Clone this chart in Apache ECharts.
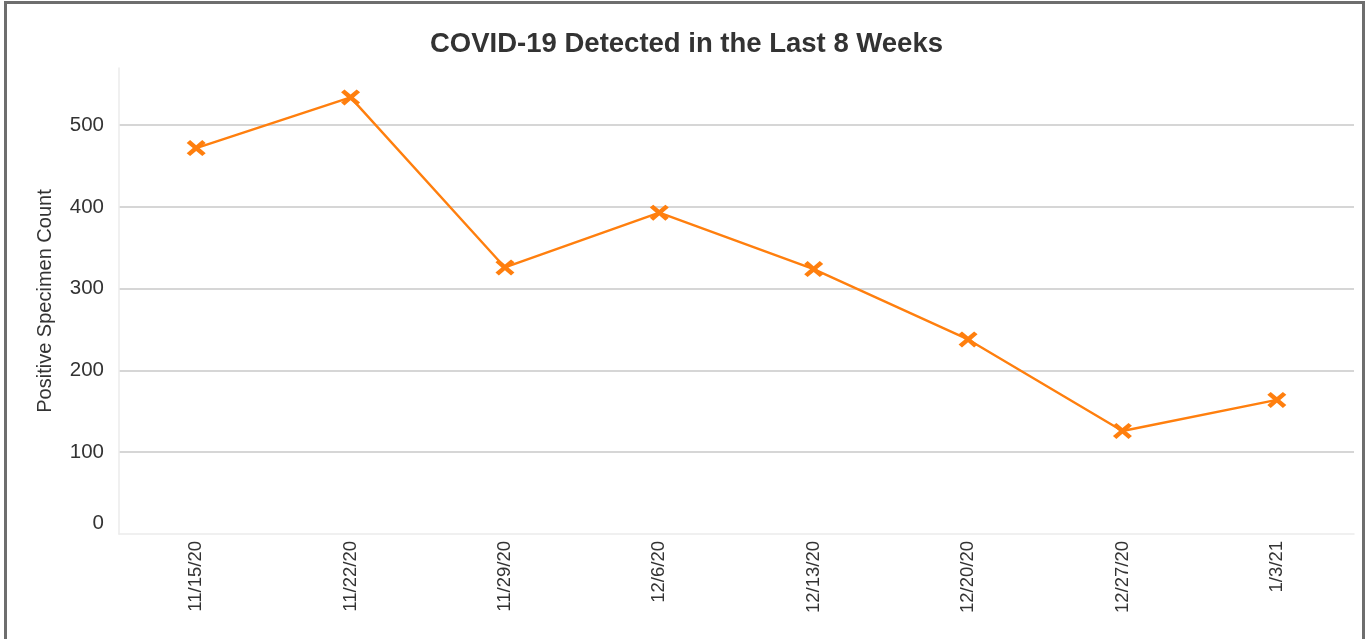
<!DOCTYPE html>
<html>
<head>
<meta charset="utf-8">
<script src="https://cdn.jsdelivr.net/npm/echarts@6/dist/echarts.min.js"></script>
<style>
html,body{margin:0;padding:0;background:#fff;}
#wrap{position:relative;width:1369px;height:639px;overflow:hidden;background:#fff;}
#frame{position:absolute;left:4px;top:1px;width:1355px;height:700px;border:3px solid #6e6e6e;box-sizing:content-box;}
#chart{position:absolute;left:0;top:0;width:1369px;height:639px;}
</style>
</head>
<body>
<div id="wrap"><div id="frame"></div><div id="chart"></div></div>
<script>
const categories = ['11/15/20','11/22/20','11/29/20','12/6/20','12/13/20','12/20/20','12/27/20','1/3/21'];
const positiveCounts = [472, 534, 326, 393, 324, 238, 126, 164];
const yTicks = [0, 100, 200, 300, 400, 500];
const titleText = 'COVID-19 Detected in the Last 8 Weeks';
const yAxisName = 'Positive Specimen Count';

const FONT = '"Liberation Sans", Arial, sans-serif';
const chart = echarts.init(document.getElementById('chart'), null, {renderer: 'canvas'});
chart.setOption({
  animation: false,
  backgroundColor: 'transparent',
  title: {
    text: titleText,
    left: 425,
    top: 25,
    textStyle: {fontFamily: FONT, fontSize: 27.5, fontWeight: 'bold', color: '#333333'}
  },
  grid: {left: 119, right: 15, top: 68, bottom: 105, containLabel: false},
  xAxis: {
    type: 'category',
    data: categories,
    boundaryGap: true,
    axisLine: {show: true, lineStyle: {color: '#ebebeb', width: 1.5}},
    axisTick: {show: false},
    axisLabel: {rotate: 90, margin: 7, fontFamily: FONT, fontSize: 18.5, color: '#333333', interval: 0}
  },
  yAxis: {
    type: 'value',
    min: yTicks[0],
    max: 570,
    interval: 100,
    name: yAxisName,
    nameLocation: 'middle',
    nameGap: 64,
    nameTextStyle: {fontFamily: FONT, fontSize: 20, color: '#333333'},
    axisLine: {show: true, lineStyle: {color: '#ebebeb', width: 1.5}},
    axisTick: {show: false},
    axisLabel: {
      margin: 15,
      showMaxLabel: false,
      fontFamily: FONT, fontSize: 20.5, color: '#333333',
      formatter: function (v) { return yTicks.indexOf(v) === -1 ? '' : (v === 0 ? '{z|0}' : String(v)); },
      rich: {z: {fontFamily: FONT, fontSize: 20.5, color: '#333333', padding: [0, 0, 22, 0]}}
    },
    splitLine: {show: true, lineStyle: {color: ['transparent', '#c8c8c8', '#c8c8c8', '#c8c8c8', '#c8c8c8', '#c8c8c8', 'transparent'], width: 1.5}}
  },
  series: [{
    type: 'line',
    data: positiveCounts,
    symbol: 'path://M0,1.8 L1.8,0 L5,3.2 L8.2,0 L10,1.8 L6.8,5 L10,8.2 L8.2,10 L5,6.8 L1.8,10 L0,8.2 L3.2,5 Z',
    symbolSize: [19, 16],
    showAllSymbol: true,
    lineStyle: {color: '#ff7f0e', width: 2.4},
    itemStyle: {color: '#ff7f0e'},
    z: 3
  }]
});
</script>
</body>
</html>
